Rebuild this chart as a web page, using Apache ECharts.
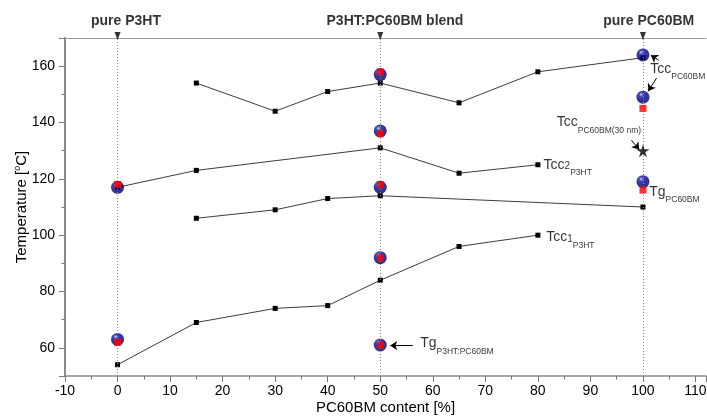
<!DOCTYPE html>
<html><head><meta charset="utf-8">
<script src="https://cdn.jsdelivr.net/npm/echarts@6/dist/echarts.min.js"></script>
<style>html,body{margin:0;padding:0;background:#fff}#c{width:707px;height:418px}</style>
</head><body><div id="c"></div>
<script>
// ---- data ----
const tccX = [15, 30, 40, 50, 65, 80, 100];
const tccY = [154, 144, 151, 154, 147, 158, 163];
const tcc2X = [0, 15, 50, 65, 80];
const tcc2Y = [117, 123, 131, 122, 125];
const tgX = [15, 30, 40, 50, 100];
const tgY = [106, 109, 113, 114, 110];
const tcc1X = [0, 15, 30, 40, 50, 65, 80];
const tcc1Y = [54, 69, 74, 75, 84, 96, 100];
const sphereX = [0, 0, 50, 50, 50, 50, 50, 100, 100, 100];
const sphereY = [117, 63, 157, 137, 117, 92, 61, 164, 149, 119];
const redX = [0, 0, 50, 50, 50, 50, 50, 100, 100];
const redY = [118, 62, 158, 136, 118, 92, 61, 145, 116];
const starX = [100];
const starY = [130];
const markerX = [0, 50, 100];
const headerText = ['pure P3HT', 'P3HT:PC60BM blend', 'pure PC60BM'];
const headerX = [1.6, 52.8, 101.1];
const annText = [
  '{t|Tcc}{s|PC60BM}',
  '{t|Tcc}{s|PC60BM(30 nm)}',
  '{t|Tcc}{d|2}{s|P3HT}',
  '{t|Tg}{s|PC60BM}',
  '{t|Tcc}{d|1}{s|P3HT}',
  '{t|Tg}{s|P3HT:PC60BM}'
];
const annX = [101.3, 83.5, 81.0, 101.1, 81.5, 57.5];
const annY = [159, 140, 125, 115.3, 99.2, 61.5];
const arrowFromX = [103.0, 102.6, 97.8, 56.2];
const arrowFromY = [162.1, 155.8, 133.7, 60.8];
const arrowToX = [101.5, 101.0, 99.3, 51.9];
const arrowToY = [163.9, 151.1, 130.4, 60.8];

const FONT = 'Liberation Sans, Arial, Helvetica, sans-serif';
const zip = (xs, ys) => xs.map((x, i) => [x, ys[i]]);

const chart = echarts.init(document.getElementById('c'), null, {renderer: 'canvas'});

const sphereColor = new echarts.graphic.RadialGradient(0.36, 0.3, 0.75, [
  {offset: 0, color: '#ffffff'},
  {offset: 0.1, color: '#6464d4'},
  {offset: 0.26, color: '#10109c'},
  {offset: 0.6, color: '#000082'},
  {offset: 1, color: '#000046'}
]);

const lineSeries = (name, xs, ys) => ({
  name, type: 'line', data: zip(xs, ys), z: 3,
  symbol: 'rect', symbolSize: 5, showAllSymbol: true,
  itemStyle: {color: '#000'},
  lineStyle: {color: '#3c3c3c', width: 1},
  emphasis: {disabled: true}, animation: false
});

const richStyles = {
  t: {fontSize: 14, lineHeight: 25, color: '#000', fontFamily: FONT},
  s: {fontSize: 8.5, lineHeight: 9, padding: [16, 0, 0, 0], color: '#000', fontFamily: FONT},
  d: {fontSize: 10, lineHeight: 10, padding: [3, 0, 0, 0], color: '#000', fontFamily: FONT}
};

const option = {
  backgroundColor: '#fff',
  animation: false,
  grid: {left: 65, right: 1, top: 38, bottom: 42, containLabel: false, outerBoundsMode: 'none'},
  xAxis: [
    {
      type: 'value', min: -10, max: 112, interval: 10, position: 'bottom',
      axisLine: {show: true, onZero: false, lineStyle: {color: '#8a8a8a', width: 1.5}},
      axisTick: {show: true, inside: false, length: 6, lineStyle: {color: '#777'}},
      axisLabel: {fontSize: 14, color: '#000', margin: 8, fontFamily: FONT,
        formatter: v => (v > 110 ? '' : String(v))},
      splitLine: {show: false},
      name: 'PC60BM content [%]', nameLocation: 'middle', nameGap: 24, nameMoveOverlap: false,
      nameTextStyle: {fontSize: 15, color: '#000', fontFamily: FONT}
    },
    {
      type: 'value', min: -10, max: 112, interval: 5, position: 'bottom',
      axisLine: {show: false, onZero: false},
      axisTick: {show: true, length: 3.5, lineStyle: {color: '#777'}},
      axisLabel: {show: false}, splitLine: {show: false}
    },
    {
      type: 'value', min: -10, max: 112, position: 'top',
      axisLine: {show: true, onZero: false, lineStyle: {color: '#9a9a9a', width: 1}},
      axisTick: {show: false}, axisLabel: {show: false}, splitLine: {show: false}
    }
  ],
  yAxis: [
    {
      type: 'value', min: 50, max: 170, splitNumber: 6, position: 'left',
      axisLine: {show: true, onZero: false, lineStyle: {color: '#8a8a8a', width: 2}},
      axisTick: {show: true, length: 6, lineStyle: {color: '#777'}},
      axisLabel: {fontSize: 14, color: '#000', margin: 10, fontFamily: FONT,
        formatter: v => ((v % 20 === 0 && v >= 60 && v <= 160) ? String(v) : '')},
      splitLine: {show: false},
      name: 'Temperature [{sup|o}C]', nameLocation: 'middle', nameGap: 34, nameMoveOverlap: false,
      nameTextStyle: {fontSize: 15, color: '#000', fontFamily: FONT, lineHeight: 18,
        rich: {sup: {fontSize: 9, lineHeight: 9, padding: [0, 0, 9, 0], color: '#000', fontFamily: FONT}}}
    },
    {
      type: 'value', min: 50, max: 170, interval: 10, position: 'left',
      axisLine: {show: false, onZero: false},
      axisTick: {show: true, length: 3.5, lineStyle: {color: '#777'}},
      axisLabel: {show: false}, splitLine: {show: false}
    }
  ],
  series: [
    {
      name: 'guides', type: 'scatter', z: 1,
      data: markerX.map((x, i) => ({value: [x, 170], name: headerText[i]})),
      symbol: 'triangle', symbolRotate: 180, symbolSize: [6, 8], symbolOffset: [0, -2],
      itemStyle: {color: '#000'}, clip: false,
      markLine: {
        silent: true, symbol: ['none', 'none'], animation: false,
        label: {show: false},
        lineStyle: {color: '#8c8c8c', width: 1, type: [1, 2]},
        data: markerX.map(x => ({xAxis: x}))
      }
    },
    {
      name: 'headers', type: 'scatter', z: 6, clip: false,
      data: headerX.map((x, i) => ({value: [x, 170], name: headerText[i]})),
      symbolSize: 1, itemStyle: {color: 'rgba(0,0,0,0)'},
      label: {show: true, position: 'top', distance: 9, formatter: p => p.name,
        fontSize: 14, fontWeight: 'bold', color: '#000', fontFamily: FONT}
    },
    lineSeries('Tcc PC60BM', tccX, tccY),
    lineSeries('Tcc2 P3HT', tcc2X, tcc2Y),
    lineSeries('Tg', tgX, tgY),
    lineSeries('Tcc1 P3HT', tcc1X, tcc1Y),
    {
      name: 'spheres', type: 'scatter', z: 4, data: zip(sphereX, sphereY),
      symbol: 'circle', symbolSize: 13, itemStyle: {color: sphereColor}
    },
    {
      name: 'red', type: 'scatter', z: 5, data: zip(redX, redY),
      symbol: 'rect', symbolSize: 7, itemStyle: {color: '#ff0000'}
    },
    {
      name: 'star', type: 'scatter', z: 5, data: zip(starX, starY),
      symbol: 'path://M50,0 L61,35 L98,35 L68,57 L79,91 L50,70 L21,91 L32,57 L2,35 L39,35 Z',
      symbolSize: 13, itemStyle: {color: '#000'}
    },
    {
      name: 'annotations', type: 'scatter', z: 6,
      data: annX.map((x, i) => ({value: [x, annY[i]], name: annText[i]})),
      symbolSize: 1, itemStyle: {color: 'rgba(0,0,0,0)'},
      label: {show: true, position: 'right', distance: 0, formatter: p => p.name,
        color: '#000', fontFamily: FONT, rich: richStyles}
    },
    {
      name: 'arrows', type: 'line', z: 7, data: [],
      markLine: {
        silent: true, symbol: ['none', 'arrow'], symbolSize: 7, animation: false,
        label: {show: false},
        itemStyle: {color: '#000'},
        lineStyle: {color: '#000', width: 1, type: 'solid'},
        data: arrowFromX.map((x, i) => [
          {coord: [x, arrowFromY[i]]},
          {coord: [arrowToX[i], arrowToY[i]]}
        ])
      }
    }
  ]
};
chart.setOption(option);
</script>
</body></html>
